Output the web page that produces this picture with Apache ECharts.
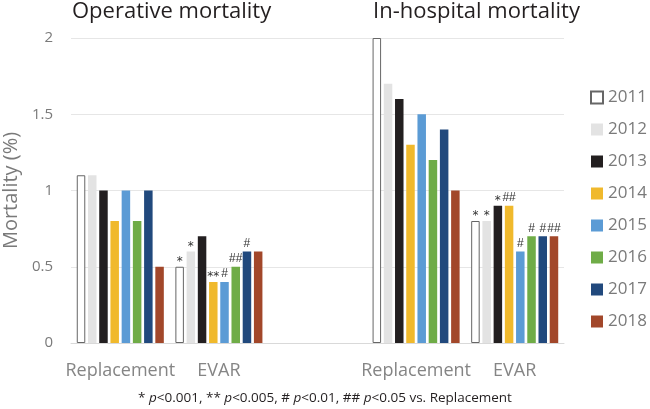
<!DOCTYPE html>
<html><head><meta charset="utf-8">
<script src="https://cdn.jsdelivr.net/npm/echarts@6/dist/echarts.min.js"></script>
<style>html,body{margin:0;padding:0;background:#fff}#c{width:650px;height:409px}</style>
</head><body><div id="c"></div>
<script>
const categories = ['Replacement', 'EVAR', '', 'Replacement', 'EVAR'];
const years = ['2011','2012','2013','2014','2015','2016','2017','2018'];
// values per year: [Operative Replacement, Operative EVAR, gap, In-hospital Replacement, In-hospital EVAR]
const v2011 = [1.1, 0.5, null, 2.0, 0.8];
const v2012 = [1.1, 0.6, null, 1.7, 0.8];
const v2013 = [1.0, 0.7, null, 1.6, 0.9];
const v2014 = [0.8, 0.4, null, 1.3, 0.9];
const v2015 = [1.0, 0.4, null, 1.5, 0.6];
const v2016 = [0.8, 0.5, null, 1.2, 0.7];
const v2017 = [1.0, 0.6, null, 1.4, 0.7];
const v2018 = [0.5, 0.6, null, 1.0, 0.7];
// significance marks per year
const s2011 = ['', '*', '', '', '*'];
const s2012 = ['', '*', '', '', '*'];
const s2013 = ['', '', '', '', '*'];
const s2014 = ['', '**', '', '', '##'];
const s2015 = ['', '#', '', '', '#'];
const s2016 = ['', '##', '', '', '#'];
const s2017 = ['', '#', '', '', '#'];
const s2018 = ['', '', '', '', '##'];
const yTicks = [0, 0.5, 1, 1.5, 2];

const values = [v2011, v2012, v2013, v2014, v2015, v2016, v2017, v2018];
const marks = [s2011, s2012, s2013, s2014, s2015, s2016, s2017, s2018];
const colors = ['#ffffff', '#e3e3e3', '#231f20', '#f0b92c', '#5b9bd5', '#6fac47', '#21497d', '#a2472a'];
const font = 'Open Sans';

function markText(m) {
  if (!m) return '';
  return m.charAt(0) === '*' ? '{a|' + m + '}' : '{h|' + m + '}';
}

const chart = echarts.init(document.getElementById('c'));
chart.setOption({
  animation: false,
  title: [
    {text: 'Operative mortality', left: 67, top: -4, textStyle: {fontFamily: font, fontSize: 22, fontWeight: 'normal', color: '#231f20'}},
    {text: 'In-hospital mortality', left: 368, top: -4, textStyle: {fontFamily: font, fontSize: 22, fontWeight: 'normal', color: '#231f20'}},
    {text: '* {i|p}<0.001, ** {i|p}<0.005, # {i|p}<0.01, ## {i|p}<0.05 vs. Replacement', left: 'center', top: 386,
     textStyle: {fontFamily: font, fontSize: 13.5, fontWeight: 'normal', color: '#231f20',
       rich: {i: {fontFamily: font, fontSize: 13.5, fontStyle: 'italic', color: '#231f20'}}}}
  ],
  legend: {
    orient: 'vertical', left: 585, top: 84, itemWidth: 12, itemHeight: 12, itemGap: 15,
    icon: 'rect',
    textStyle: {fontFamily: font, fontSize: 17, color: '#7a7a7a'},
    data: years
  },
  grid: {left: 71, right: 86, top: 38, bottom: 66, containLabel: false, outerBoundsMode: 'none'},
  xAxis: {
    type: 'category', data: categories,
    axisTick: {show: false},
    axisLine: {lineStyle: {color: '#d9d9d9'}},
    axisLabel: {fontFamily: font, fontSize: 18, color: '#858585', margin: 19, interval: 0}
  },
  yAxis: {
    type: 'value', min: 0, max: 2, interval: 0.5,
    name: 'Mortality (%)', nameLocation: 'middle', nameGap: 47,
    nameTextStyle: {fontFamily: font, fontSize: 20, color: '#7a7a7a'},
    axisLabel: {fontFamily: font, fontSize: 15, color: '#7a7a7a', margin: 18,
      formatter: v => yTicks.includes(v) ? String(v) : ''},
    splitLine: {lineStyle: {color: '#e6e6e6'}},
    axisLine: {show: false}, axisTick: {show: false}
  },
  series: years.map((y, i) => ({
    name: y, type: 'bar', data: values[i],
    barWidth: 8.5, barGap: '32%',
    itemStyle: {color: colors[i], borderColor: i === 0 ? '#666' : colors[i], borderWidth: i === 0 ? 1 : 0},
    label: {show: true, position: 'top', distance: 2,
      color: '#333',
      formatter: p => markText(marks[i][p.dataIndex]),
      rich: {
        a: {fontFamily: 'DejaVu Sans', fontSize: 12, color: '#333', padding: [0, 0, -3, 0]},
        h: {fontFamily: 'Liberation Sans', fontSize: 12, color: '#333'}
      }}
  }))
});
</script></body></html>
